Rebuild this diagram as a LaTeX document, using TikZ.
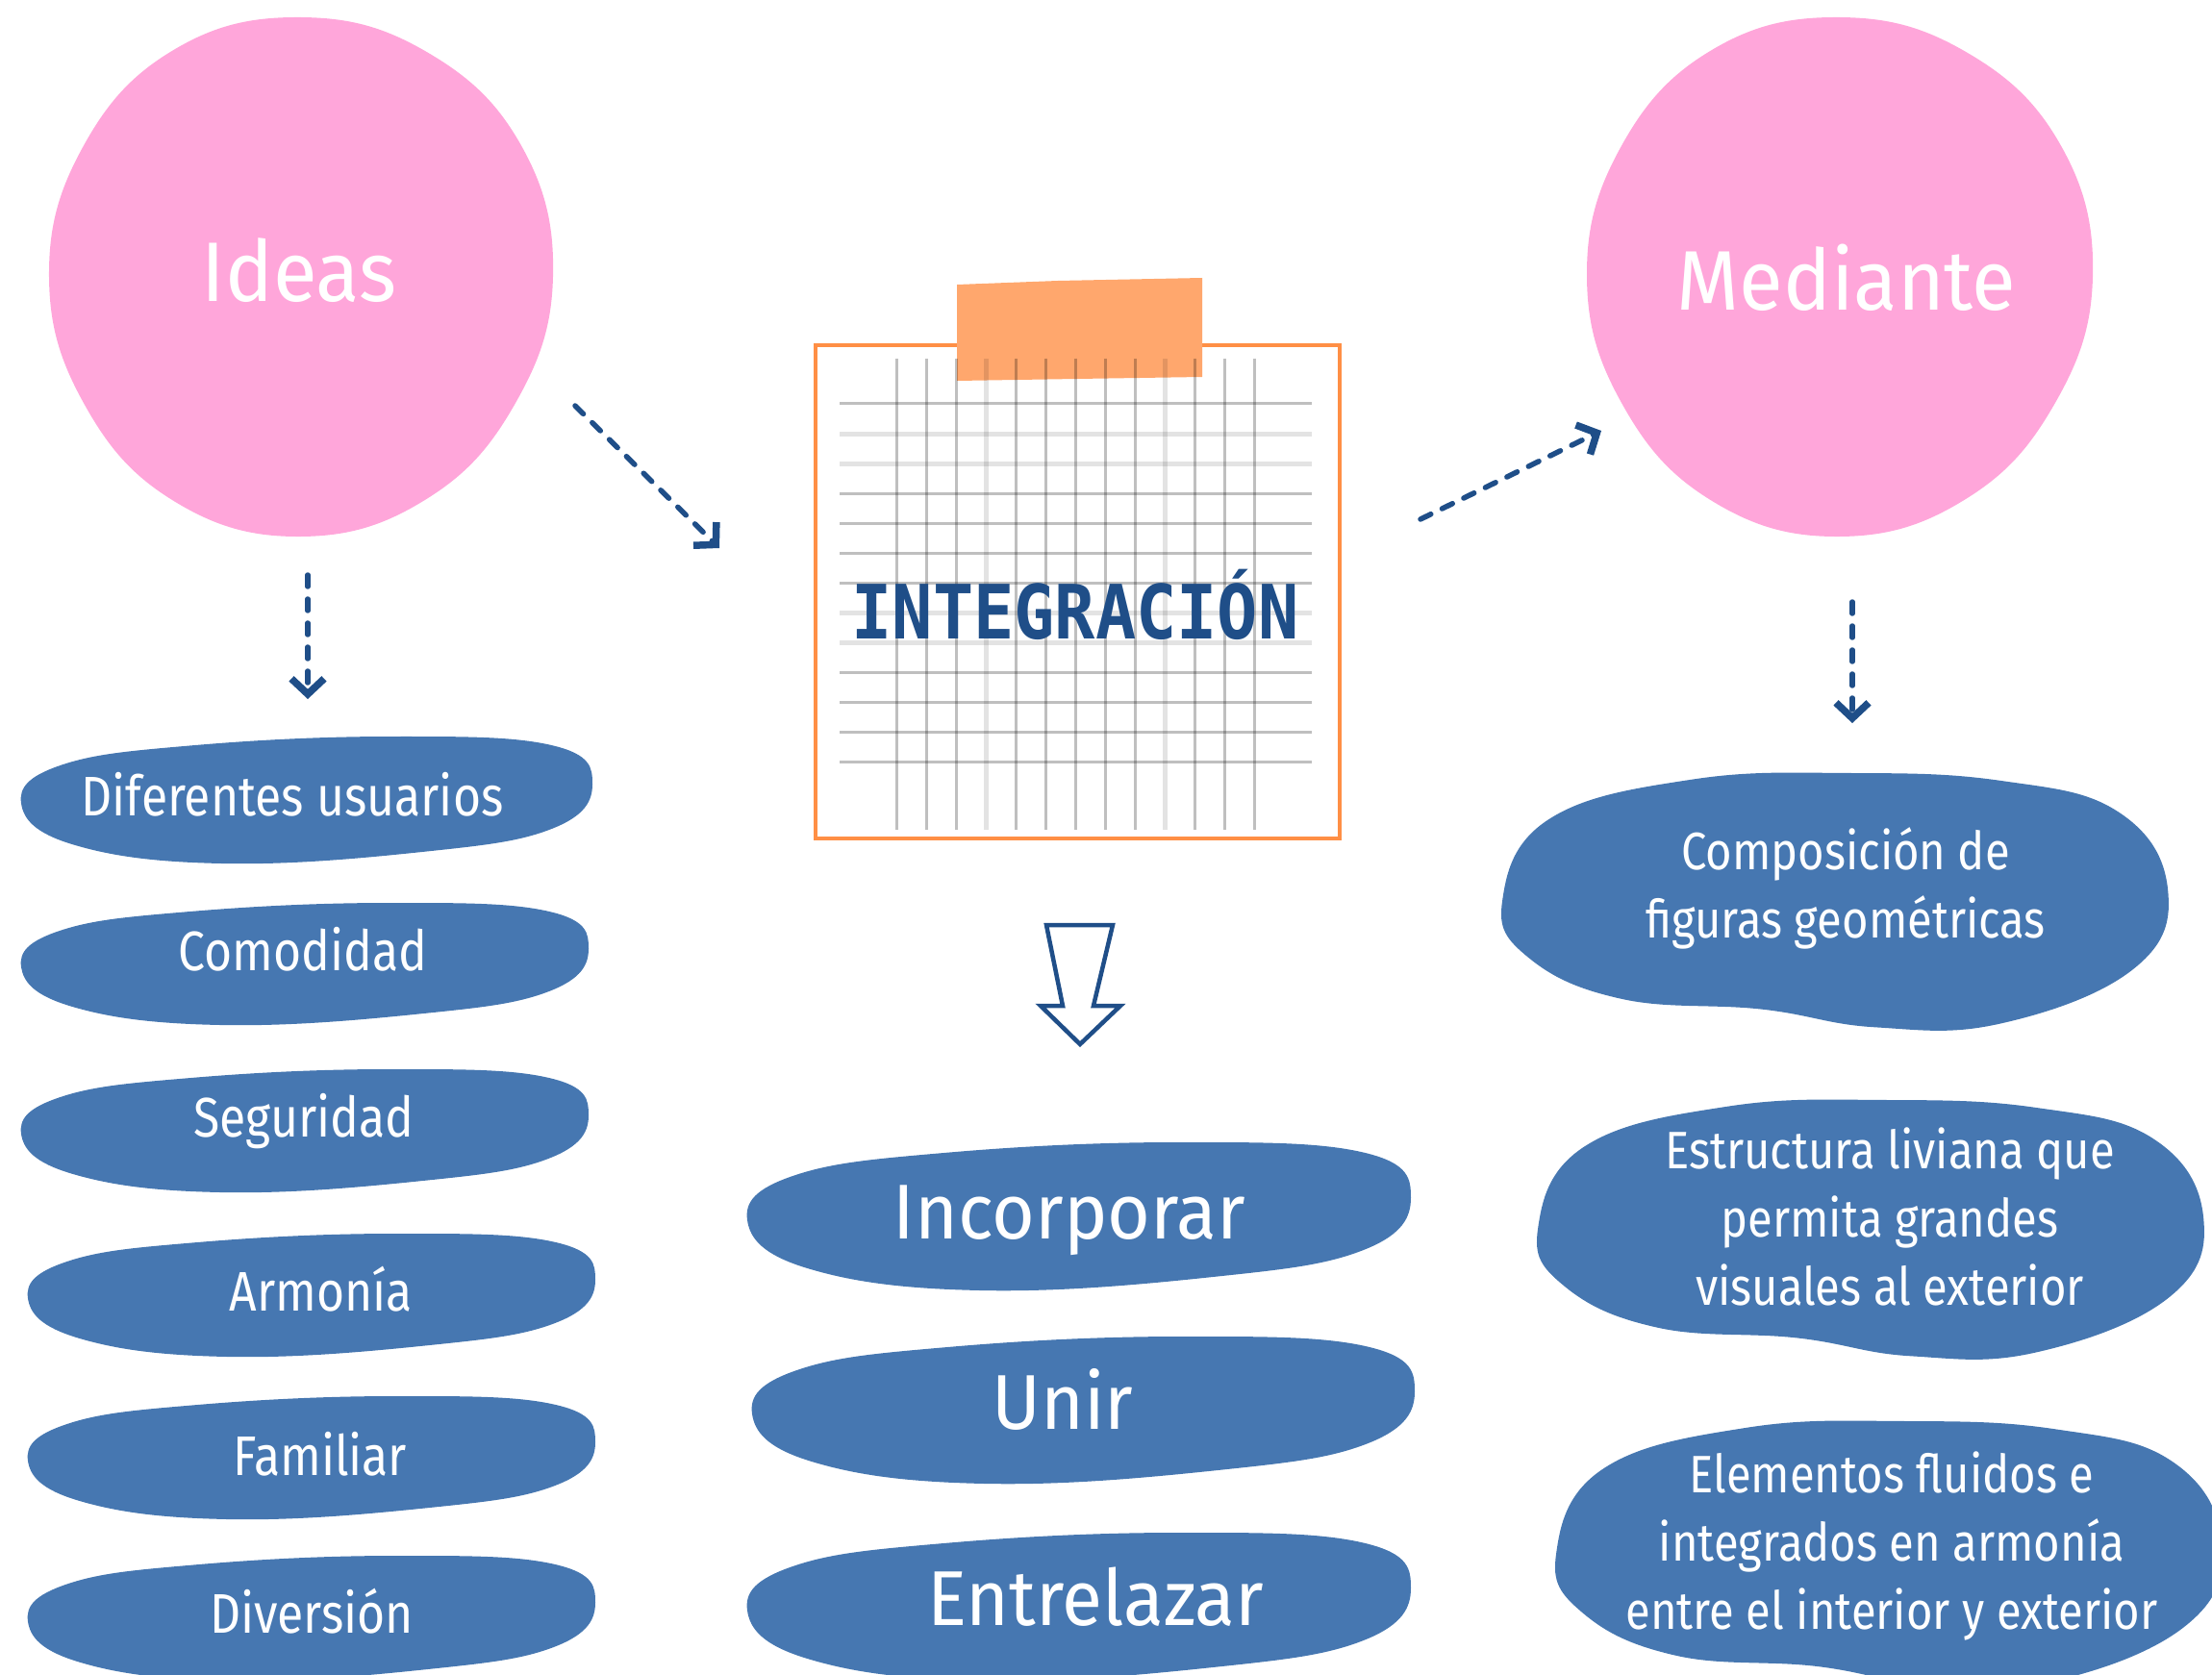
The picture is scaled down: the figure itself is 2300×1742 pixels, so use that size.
\documentclass[tikz,border=0pt]{standalone}
\usepackage{fontspec}
\setmainfont{Fira Sans}
\newfontfamily\labfont[FakeStretch=0.86]{Fira Sans}
\newfontfamily\bigfont[FakeStretch=0.95]{Fira Sans}
\newfontfamily\padfont[FakeStretch=0.9]{DejaVu Sans Mono}
\usetikzlibrary{arrows.meta}
\definecolor{pinkc}{HTML}{FFA6DA}
\definecolor{blobc}{HTML}{4677B1}
\definecolor{navy}{HTML}{1F4E88}
\definecolor{orangeline}{HTML}{FF8F45}
\definecolor{tapec}{HTML}{FFA76D}
% blob A: horizontal pill  (#1,#2)-(#3,#4) bounding box
\newcommand\blobA[4]{%
  \begin{scope}[shift={({(#1+#3)/2},{(#2+#4)/2})}, xscale={(#3-#1)/2}, yscale={(#4-#2)/2}]
    \fill[blobc] plot[smooth cycle, tension=0.7] coordinates {(-1,0.05) (-0.86,-0.55) (-0.4,-0.86) (0.3,-1) (0.86,-0.86) (1,-0.25) (0.86,0.45) (0.4,0.82) (-0.3,1) (-0.82,0.7)};
  \end{scope}}
% blob B: big rounded blob
\newcommand\blobB[4]{%
  \begin{scope}[shift={({(#1+#3)/2},{(#2+#4)/2})}, xscale={(#3-#1)/2}, yscale={(#4-#2)/2}]
    \fill[blobc] plot[smooth cycle, tension=0.7] coordinates {(-1,0) (-0.86,-0.64) (-0.43,-0.95) (0.05,-1) (0.5,-0.94) (0.85,-0.7) (1,-0.1) (0.9,0.52) (0.5,0.95) (0.12,0.98) (-0.22,0.84) (-0.64,0.76) (-0.92,0.44)};
  \end{scope}}
% pink round blob centred at (#1,#2) radii #3,#4
\newcommand\pinkblob[4]{%
  \begin{scope}[shift={(#1,#2)}, xscale=#3, yscale=#4]
    \fill[pinkc] plot[smooth cycle, tension=0.7] coordinates {(0:1.0) (30:0.98) (60:0.99) (90:1) (120:1) (150:0.99) (180:1) (210:1.0) (240:1.01) (270:1) (300:1.0) (330:1.01)};
  \end{scope}}
\begin{document}
\begin{tikzpicture}[x=0.1mm,y=-0.1mm,
  dasharrow/.style={draw=navy, line width=0.55mm, dash pattern=on 1.2mm off 1.3mm, line cap=round, -{Straight Barb[length=1.6mm,width=3.4mm,line width=0.75mm]}},
  lab/.style={text=white, font=\labfont\fontsize{16.5}{20}\selectfont, anchor=base, inner sep=0pt},
  rlab/.style={text=white, font=\labfont\fontsize{15.6}{20.2}\selectfont, anchor=base, align=center, inner sep=0pt},
  mlab/.style={text=white, font=\bigfont\fontsize{23}{27}\selectfont, anchor=base, inner sep=0pt},
  blab/.style={text=white, font=\bigfont\fontsize{25}{30}\selectfont, anchor=base, inner sep=0pt},
  gridline/.style={draw=black, opacity=0.25, line width=0.3mm},
  gridlight/.style={draw=black, opacity=0.11, line width=0.5mm},
]
\useasboundingbox (0,0) rectangle (2300,1742);
\clip (0,0) rectangle (2300,1742);

% pink circles
\pinkblob{313}{288}{262}{270}
\pinkblob{1913}{288}{263}{270}
\node[blab] (ideas) at (311,313) {Ideas};
\node[blab] (mediante) at (1920,323) {Mediante};

% notepad
\draw[draw=orangeline, line width=0.4mm, fill=white] (848,359) rectangle (1393,872);
\fill[tapec] (995,296) -- (1100,292) -- (1250,289) -- (1250,392) -- (1120,394) -- (995,396) -- cycle;
\foreach \k/\s in {0/gridline,1/gridlight,2/gridlight,3/gridline,4/gridline,5/gridline,6/gridline,7/gridlight,8/gridlight,9/gridline,10/gridline,11/gridline,12/gridline}
  \draw[\s] (873,{420+31.08*\k}) -- (1364,{420+31.08*\k});
\foreach \k/\s in {0/gridline,1/gridline,2/gridline,3/gridlight,4/gridline,5/gridline,6/gridline,7/gridline,8/gridline,9/gridlight,10/gridline,11/gridline,12/gridline}
  \draw[\s] ({932+31.08*\k},373) -- ({932+31.08*\k},863);
\node[text=navy, font=\padfont\bfseries\fontsize{22.2}{26}\selectfont, anchor=base, inner sep=0pt] (integ) at (1118,665) {INTEGRACIÓN};

% hollow arrow
\draw[navy, line width=0.45mm, line join=miter, fill=white] (1088,962) -- (1157,962) -- (1137,1046) -- (1165,1046) -- (1123,1086) -- (1082,1046) -- (1105,1046) -- cycle;

% dashed arrows
\coordinate (a1s) at (598,422); \coordinate (a1e) at (748,570);
\coordinate (a2s) at (1477,540); \coordinate (a2e) at (1665,448);
\coordinate (a3s) at (320,598); \coordinate (a3e) at (320,727);
\coordinate (a4s) at (1926,626); \coordinate (a4e) at (1926,752);
\draw[dasharrow] (a1s) -- (a1e);
\draw[dasharrow] (a2s) -- (a2e);
\draw[dasharrow] (a3s) -- (a3e);
\draw[dasharrow] (a4s) -- (a4e);

% left blobs
\blobA{22}{766}{616}{898}
\blobA{22}{939}{612}{1066}
\blobA{22}{1112}{612}{1240}
\blobA{29}{1283}{619}{1411}
\blobA{29}{1452}{619}{1580}
\blobA{29}{1618}{619}{1748}
\node[lab] (l1) at (304,848) {Diferentes usuarios};
\node[lab] (l2) at (315,1009) {Comodidad};
\node[lab] (l3) at (316,1182) {Seguridad};
\node[lab] (l4) at (334,1363) {Armonía};
\node[lab] (l5) at (333,1534) {Familiar};
\node[lab] (l6) at (324,1698) {Diversión};

% middle blobs
\blobA{777}{1188}{1467}{1342}
\blobA{782}{1390}{1471}{1543}
\blobA{777}{1594}{1467}{1748}
\node[mlab] (incorporar) at (1112,1288) {Incorporar};
\node[mlab] (unir) at (1105,1486) {Unir};
\node[mlab] (entrelazar) at (1139,1690) {Entrelazar};

% right blobs
\blobB{1562}{804}{2254}{1071}
\blobB{1599}{1144}{2291}{1413}
\blobB{1618}{1478}{2310}{1755}
\node[rlab] (r1) at (1919,975) {Composición de\\figuras geométricas};
\node[rlab] (r2) at (1965,1357) {Estructura liviana que\\permita grandes\\visuales al exterior};
\node[rlab] (r3) at (1967,1694) {Elementos fluidos e\\integrados en armonía\\entre el interior y exterior};
\end{tikzpicture}
\end{document}
